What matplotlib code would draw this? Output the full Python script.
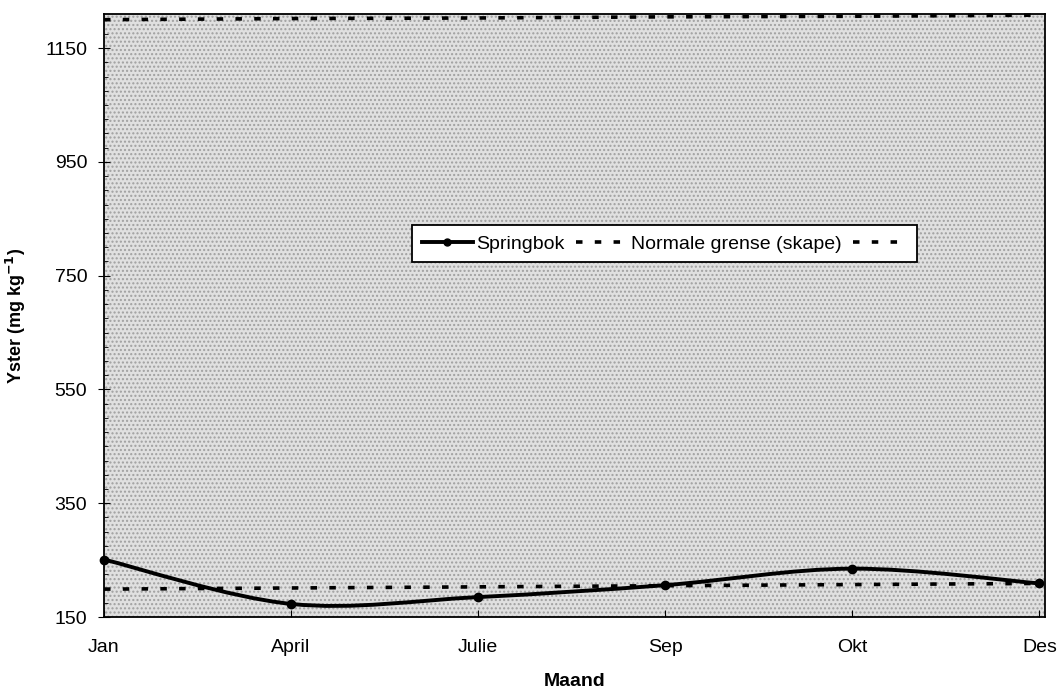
import matplotlib
matplotlib.use('Agg')
import matplotlib.pyplot as plt
from matplotlib.path import Path
from matplotlib.patches import PathPatch, Rectangle
from matplotlib.lines import Line2D
from matplotlib.ticker import MultipleLocator

plt.rcParams['font.family'] = ['Liberation Sans', 'DejaVu Sans']

maande = ['Jan', 'April', 'Julie', 'Sep', 'Okt', 'Des']
springbok = [251, 173, 185, 206, 235, 209]
grens_onder = [199, 201, 203, 205, 207, 209]
grens_bo = [1200, 1202, 1203, 1205, 1206, 1208]

fig = plt.figure(figsize=(10.59, 6.89), dpi=100)
ax = fig.add_axes([104 / 1059, 72 / 689, 941 / 1059, 603 / 689])

x = list(range(len(maande)))

# stippled grey plot area
ax.set_facecolor('#e0e0e0')
ax.add_patch(Rectangle((0, 0), 1, 1, transform=ax.transAxes, facecolor='none',
                       edgecolor='#a0a0a0', hatch='....', linewidth=0, zorder=0))

# normal limits (dotted)
dots = (0, (1.8, 3.4))
ax.plot(x, grens_onder, color='black', lw=2.6, linestyle=dots, zorder=2)
ax.plot(x, grens_bo, color='black', lw=2.6, linestyle=dots, zorder=2, clip_on=False)

# smoothed springbok line (Catmull-Rom style bezier)
pts = list(zip(x, springbok))
verts = [pts[0]]
codes = [Path.MOVETO]
for i in range(len(pts) - 1):
    p0 = pts[i - 1] if i > 0 else pts[i]
    p1 = pts[i]
    p2 = pts[i + 1]
    p3 = pts[i + 2] if i + 2 < len(pts) else pts[i + 1]
    c1 = (p1[0] + (p2[0] - p0[0]) / 6, p1[1] + (p2[1] - p0[1]) / 6)
    c2 = (p2[0] - (p3[0] - p1[0]) / 6, p2[1] - (p3[1] - p1[1]) / 6)
    verts += [c1, c2, p2]
    codes += [Path.CURVE4] * 3
ax.add_patch(PathPatch(Path(verts, codes), facecolor='none', edgecolor='black',
                       lw=2.8, zorder=3, clip_on=False))
ax.plot(x, springbok, linestyle='none', marker='o', color='black', markersize=6,
        zorder=4, clip_on=False)

ax.set_xlim(0, 5.03)
ax.set_ylim(150, 1210)
ax.set_xticks(x)
ax.set_xticklabels(maande)
ax.set_yticks([150, 350, 550, 750, 950, 1150])
ax.yaxis.set_minor_locator(MultipleLocator(25))
ax.tick_params(axis='x', direction='in', length=5, pad=16, labelsize=14)
ax.tick_params(axis='y', which='major', direction='inout', length=8, labelsize=14, pad=8)
ax.tick_params(axis='y', which='minor', direction='in', length=3)
for s in ax.spines.values():
    s.set_linewidth(1.3)

ax.set_xlabel('Maand', fontweight='bold', fontsize=14, labelpad=12)
ax.set_ylabel('Yster (mg kg$^{\\mathbf{-1}}$)', fontweight='bold', fontsize=13)
ax.yaxis.set_label_coords(-0.081, 0.5)

handles = [
    Line2D([], [], color='black', lw=2.8, marker='o', markersize=5),
    Line2D([], [], color='black', lw=2.6, linestyle=dots),
    Line2D([], [], color='black', lw=2.6, linestyle=dots),
]
leg = ax.legend(handles, ['Springbok', 'Normale grense (skape)', ''], ncol=3,
                loc='center', bbox_to_anchor=(0.596, 0.619), fontsize=14,
                fancybox=False, framealpha=1, edgecolor='black', handlelength=2.6,
                handletextpad=0.2, columnspacing=0.6, borderpad=0.5)
leg.get_frame().set_linewidth(1.3)

fig.savefig('out.png', dpi=100)
